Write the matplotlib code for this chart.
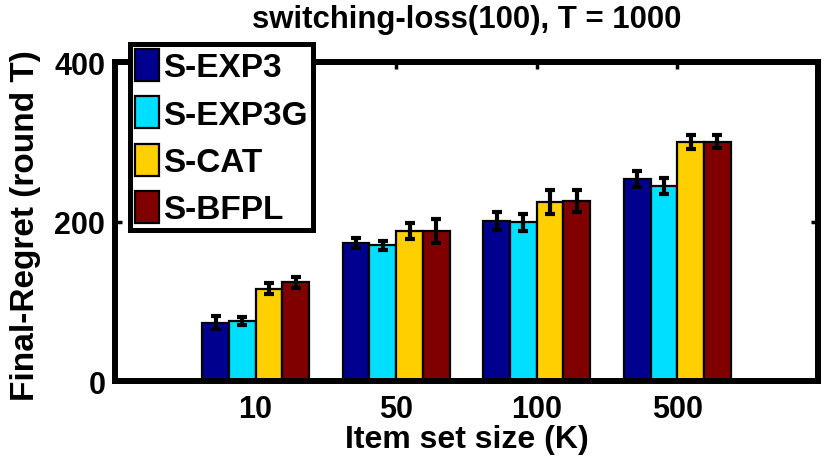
import numpy as np
import matplotlib.pyplot as plt

# final regret at round T for each item set size, with error bar half-widths
sizes = ['10', '50', '100', '500']
methods = ['S-EXP3', 'S-EXP3G', 'S-CAT', 'S-BFPL']
colors = ['#00008F', '#00DFFF', '#FFCF00', '#800000']

regret_exp3 = [73, 173, 201, 253]
regret_exp3g = [75, 170, 199, 245]
regret_cat = [116, 188, 224, 300]
regret_bfpl = [124, 188, 226, 300]

err_exp3 = [8, 6, 11, 10]
err_exp3g = [5, 6, 11, 10]
err_cat = [7, 10, 15, 9]
err_bfpl = [7, 15, 14, 8]

regret = [regret_exp3, regret_exp3g, regret_cat, regret_bfpl]
errors = [err_exp3, err_exp3g, err_cat, err_bfpl]

plt.rcParams['font.family'] = 'Liberation Sans'
plt.rcParams['font.weight'] = 'bold'
plt.rcParams['axes.labelweight'] = 'bold'
plt.rcParams['axes.titleweight'] = 'bold'
plt.rcParams['font.size'] = 22

fig = plt.figure(figsize=(8.23, 4.64), dpi=100)
ax = fig.add_axes([0.1397, 0.1767, 0.8542, 0.6873])

x = np.arange(1, len(sizes) + 1)
w = 0.19
for i, (vals, errs) in enumerate(zip(regret, errors)):
    pos = x + (i - 1.5) * w
    ax.bar(pos, vals, width=w, color=colors[i], edgecolor='black',
           linewidth=1.6, label=methods[i], zorder=2)
    ax.errorbar(pos, vals, yerr=errs, fmt='none', ecolor='black',
                elinewidth=3, capsize=3.5, capthick=3, zorder=3)

ax.set_xlim(0, 5)
ax.set_ylim(0, 400)
ax.set_xticks(x)
ax.set_xticklabels(sizes)
ax.set_yticks([0, 200, 400])

for side in ax.spines.values():
    side.set_linewidth(4.3)
ax.tick_params(direction='in', length=5, width=2.5, top=True, right=True,
               pad=7, labelsize=22)
ax.tick_params(axis='x', pad=9)

ax.set_title('switching-loss(100), T = 1000', pad=25, fontsize=22.4)
ax.set_xlabel('Item set size (K)', labelpad=0, fontsize=23)
ax.set_ylabel('Final-Regret (round T)', fontsize=24)
ax.yaxis.set_label_coords(-0.105, 0.49)

leg = ax.legend(loc='upper left', bbox_to_anchor=(130 / 823, 1 - 45 / 464),
                bbox_transform=fig.transFigure, borderaxespad=0,
                fancybox=False, framealpha=1, edgecolor='black',
                fontsize=24, handlelength=0.72, handleheight=1.1,
                labelspacing=0.39, handletextpad=0.12, borderpad=0.15)
leg.get_frame().set_linewidth(3.6)
leg.set_zorder(5)

fig.savefig('out.png', dpi=100)
